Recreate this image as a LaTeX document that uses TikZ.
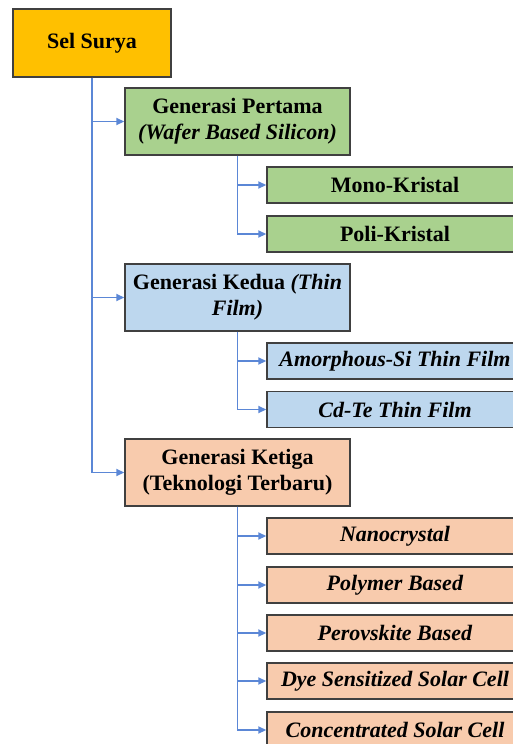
\documentclass[tikz,border=0pt]{standalone}
\usepackage{fontspec}
\setmainfont{Liberation Serif}
\usetikzlibrary{arrows.meta}
\definecolor{gold}{HTML}{FFC000}
\definecolor{gen1}{HTML}{A9D18E}
\definecolor{gen2}{HTML}{BDD7EE}
\definecolor{gen3}{HTML}{F8CBAD}
\definecolor{bord}{HTML}{404040}
\definecolor{conn}{HTML}{5B87D6}
\tikzset{
  box/.style={draw=bord, line width=1.4pt, rectangle, inner sep=2pt, align=center,
    font=\fontsize{22}{26}\selectfont\bfseries},
  rootbox/.style={box, fill=gold, minimum width=158pt, minimum height=68pt},
  genbox/.style={box, minimum width=225pt, minimum height=67pt},
  subbox/.style={box, minimum width=256pt, minimum height=36pt},
  link/.style={draw=conn, line width=1.7pt, -{Triangle[length=8pt,width=7pt]}}
}
\begin{document}
\begin{tikzpicture}[x=1pt,y=-1pt]
\useasboundingbox (0,0) rectangle (513,744);
\clip (0,0) rectangle (513,744);
\node[rootbox] (ss) at (92,43) {Sel Surya};
\node[genbox, fill=gen1] (g1) at (237.5,121.5) {Generasi Pertama\\\textit{(Wafer Based Silicon)}};
\node[genbox, fill=gen2] (g2) at (237.5,297.5) {Generasi Kedua \textit{(Thin}\\\textit{Film)}};
\node[genbox, fill=gen3] (g3) at (237.5,472.5) {Generasi Ketiga\\(Teknologi Terbaru)};
\node[subbox, fill=gen1] (a1) at (395,185) {Mono-Kristal};
\node[subbox, fill=gen1] (a2) at (395,234) {Poli-Kristal};
\node[subbox, fill=gen2] (b1) at (395,361) {\textit{Amorphous-Si Thin Film}};
\node[subbox, fill=gen2] (b2) at (395,409.5) {\textit{Cd-Te Thin Film}};
\node[subbox, fill=gen3] (c1) at (395,536) {\textit{Nanocrystal}};
\node[subbox, fill=gen3] (c2) at (395,585) {\textit{Polymer Based}};
\node[subbox, fill=gen3] (c3) at (395,633) {\textit{Perovskite Based}};
\node[subbox, fill=gen3] (c4) at (395,681) {\textit{Dye Sensitized Solar Cell}};
\node[subbox, fill=gen3] (c5) at (395,730) {\textit{Concentrated Solar Cell}};
\draw[link] (ss.south) |- (g1.west);
\draw[link] (ss.south) |- (g2.west);
\draw[link] (ss.south) |- (g3.west);
\draw[link] (g1.south) |- (a1.west);
\draw[link] (g1.south) |- (a2.west);
\draw[link] (g2.south) |- (b1.west);
\draw[link] (g2.south) |- (b2.west);
\draw[link] (g3.south) |- (c1.west);
\draw[link] (g3.south) |- (c2.west);
\draw[link] (g3.south) |- (c3.west);
\draw[link] (g3.south) |- (c4.west);
\draw[link] (g3.south) |- (c5.west);
\end{tikzpicture}
\end{document}
